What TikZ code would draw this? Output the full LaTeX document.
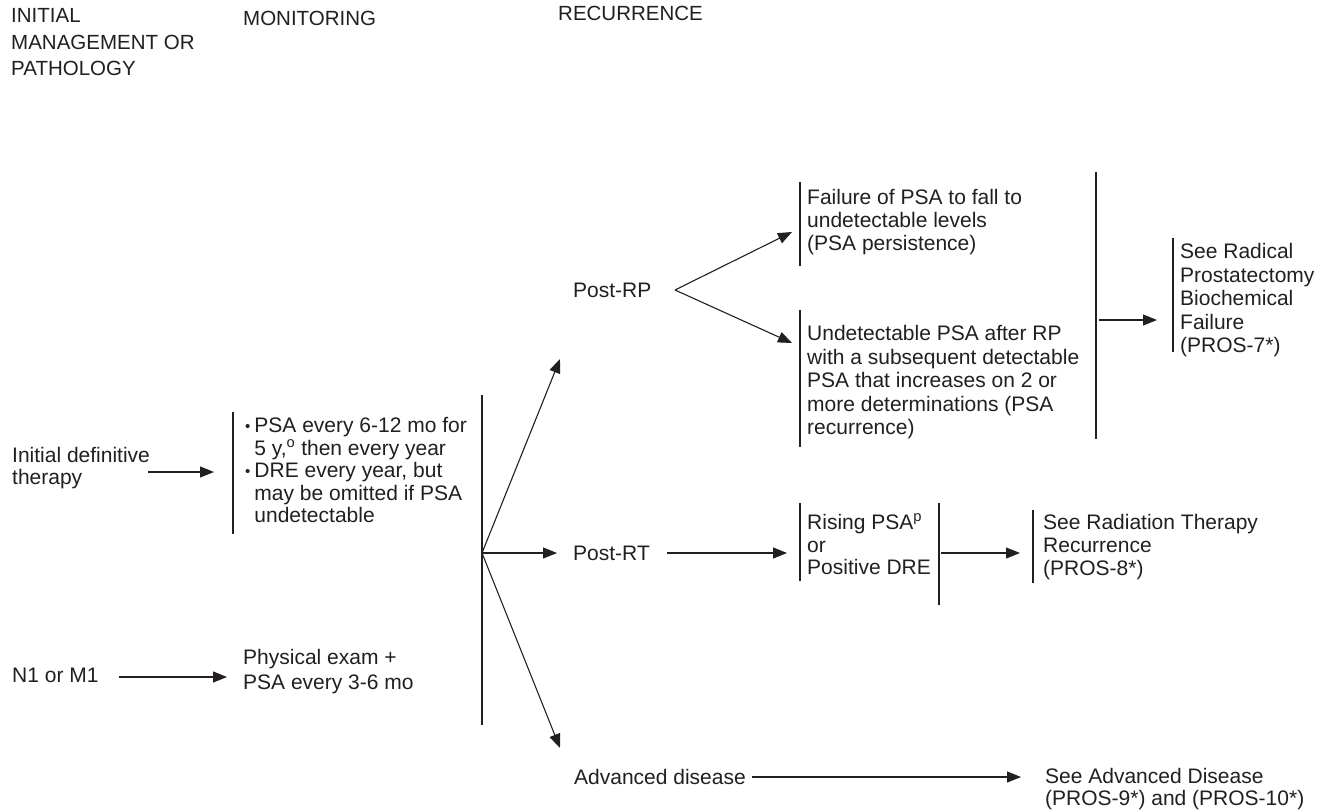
\documentclass[tikz,border=0pt]{standalone}
\usepackage{fontspec}
\setmainfont{Liberation Sans}
\usetikzlibrary{arrows.meta}
\definecolor{ink}{HTML}{231F20}
\newcommand{\lines}[1]{\begin{tabular}[t]{@{}l@{}}#1\end{tabular}}
\newcommand{\smallbullet}{{\fontsize{15}{15}\selectfont\raisebox{1.5pt}{\textbullet}}}
\begin{document}
\begin{tikzpicture}[x=1pt,y=-1pt,
  txt/.style={anchor=base west, inner sep=0pt, text=ink, font=\fontsize{21}{23.5}\selectfont},
  hdr/.style={txt, font=\fontsize{20.5}{26.5}\selectfont},
  rule/.style={draw=ink, line width=1.2pt},
  arr/.style={draw=ink, line width=1.1pt, -{Triangle[length=14pt,width=11pt]}}]
\useasboundingbox (0,0) rectangle (1330,811);
\fill[white] (0,0) rectangle (1330,811);

% column headings
\node[hdr] (hInit) at (11,22.5) {\lines{INITIAL\\MANAGEMENT OR\\PATHOLOGY}};
\node[hdr] (hMon) at (243,25.5) {MONITORING};
\node[hdr] (hRec) at (558,20.5) {RECURRENCE};

% initial management
\node[txt, font=\fontsize{21}{22}\selectfont] (init) at (12,462.5) {\lines{Initial definitive\\therapy}};
\node[txt] (n1) at (12,682.5) {N1 or M1};

% monitoring
\draw[rule] (233,412) -- (233,534);
\node[txt, font=\fontsize{21}{22.5}\selectfont] (mon) at (245,432.5) {\begin{tabular}[t]{@{}l@{\hspace{4pt}}l@{}}
  \smallbullet & PSA every 6-12 mo for\\
   & 5 y,\textsuperscript{o} then every year\\
  \smallbullet & DRE every year, but\\
   & may be omitted if PSA\\
   & undetectable\end{tabular}};
\node[txt, font=\fontsize{21}{25}\selectfont] (phys) at (243,664.5) {\lines{Physical exam +\\PSA every 3-6 mo}};

\coordinate (initE) at (148,472);
\coordinate (monW) at (214,472);
\draw[arr] (initE) -- (monW);
\coordinate (n1E) at (119,677);
\coordinate (physW) at (227,677);
\draw[arr] (n1E) -- (physW);

% distribution bar and its branches
\draw[rule] (482,395) -- (482,725);
\coordinate (hub) at (482,553);
\coordinate (rpTip) at (560,359);
\coordinate (rtTip) at (557,553);
\coordinate (adTip) at (560,748);
\draw[arr] (hub) -- (rpTip);
\draw[arr] (hub) -- (rtTip);
\draw[arr] (hub) -- (adTip);

% post-RP
\node[txt] (postRP) at (573,297.5) {Post-RP};
\coordinate (rpFork) at (675,290);
\coordinate (failTip) at (792,232);
\coordinate (undTip) at (792,343);
\draw[arr] (rpFork) -- (failTip);
\draw[arr] (rpFork) -- (undTip);

\draw[rule] (800,182) -- (800,266);
\node[txt, font=\fontsize{21}{23}\selectfont] (fail) at (807,204.5) {\lines{Failure of PSA to fall to\\undetectable levels\\(PSA persistence)}};
\draw[rule] (800,310) -- (800,447);
\node[txt] (und) at (807,340.5) {\lines{Undetectable PSA after RP\\with a subsequent detectable\\PSA that increases on 2 or\\more determinations (PSA\\recurrence)}};

\draw[rule] (1096,172) -- (1096,439);
\coordinate (rpJoin) at (1099,320);
\coordinate (radW) at (1157,320);
\draw[arr] (rpJoin) -- (radW);
\draw[rule] (1173,238) -- (1173,352);
\node[txt] (rad) at (1180,258.5) {\lines{See Radical\\Prostatectomy\\Biochemical\\Failure\\(PROS-7*)}};

% post-RT
\node[txt] (postRT) at (573,560.5) {Post-RT};
\coordinate (rtE) at (667,553);
\coordinate (riseW) at (787,553);
\draw[arr] (rtE) -- (riseW);
\draw[rule] (800,503) -- (800,581);
\node[txt, font=\fontsize{21}{22.5}\selectfont] (rise) at (807,529.5) {\lines{Rising PSA\textsuperscript{p}\\or\\Positive DRE}};
\draw[rule] (939,503) -- (939,605);
\coordinate (riseE) at (941,553);
\coordinate (rtRecW) at (1020,553);
\draw[arr] (riseE) -- (rtRecW);
\draw[rule] (1033,510) -- (1033,583);
\node[txt, font=\fontsize{21}{23}\selectfont] (rtRec) at (1043,529.5) {\lines{See Radiation Therapy\\Recurrence\\(PROS-8*)}};

% advanced disease
\node[txt] (adv) at (574,784) {Advanced disease};
\coordinate (advE) at (752,777);
\coordinate (seeAdvW) at (1021,777);
\draw[arr] (advE) -- (seeAdvW);
\node[txt, font=\fontsize{21}{21.5}\selectfont] (seeAdv) at (1045,783.5) {\lines{See Advanced Disease\\(PROS-9*) and (PROS-10*)}};
\end{tikzpicture}
\end{document}
